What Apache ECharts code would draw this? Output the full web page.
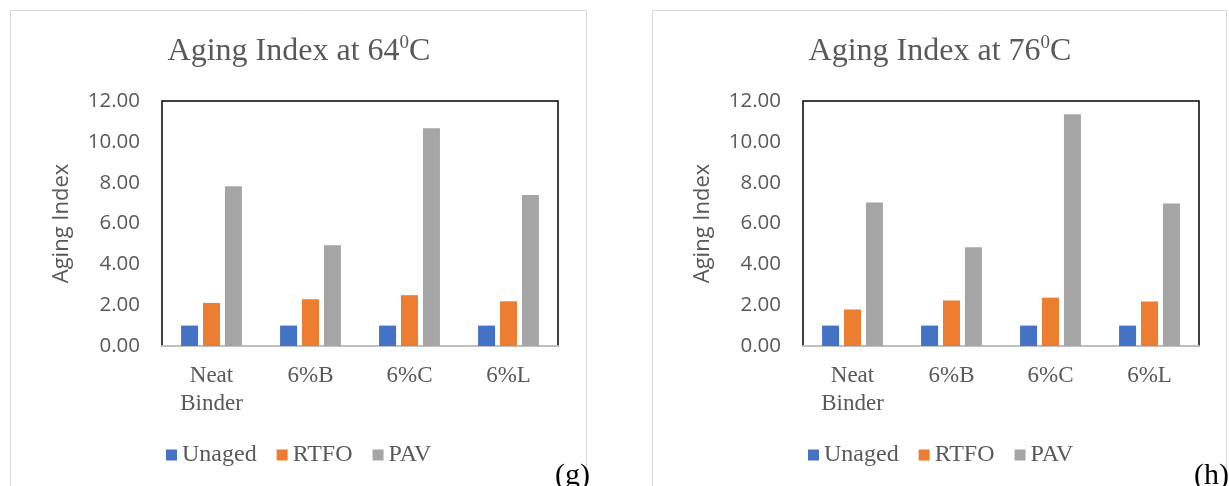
<!DOCTYPE html>
<html>
<head>
<meta charset="utf-8">
<script src="https://cdn.jsdelivr.net/npm/echarts@6/dist/echarts.min.js"></script>
<style>
html,body{margin:0;padding:0;background:#fff;}
#c{width:1229px;height:486px;}
</style>
</head>
<body>
<div id="c"></div>
<script>
var categories = ['Neat\nBinder', '6%B', '6%C', '6%L'];
var seriesNames = ['Unaged', 'RTFO', 'PAV'];
var unaged64 = [1.00, 1.00, 1.00, 1.00];
var rtfo64 = [2.11, 2.29, 2.49, 2.19];
var pav64 = [7.83, 4.94, 10.67, 7.39];
var unaged76 = [1.00, 1.00, 1.00, 1.00];
var rtfo76 = [1.79, 2.23, 2.37, 2.18];
var pav76 = [7.03, 4.84, 11.35, 6.98];
var yTicks = { min: 0, max: 12, interval: 2 };
var titles = ['Aging Index at 64{sup|0}C', 'Aging Index at 76{sup|0}C'];
var panelTags = ['(g)', '(h)'];
var yName = 'Aging Index';

var colors = ['#4472C4', '#ED7D31', '#A5A5A5'];
var serif = 'Liberation Serif';
var sans = 'Open Sans';
var txt = '#595959';

var chart = echarts.init(document.getElementById('c'), null, { renderer: 'canvas' });

var gridLefts = [162, 803];
var frameCenters = [299, 940];
var legendLefts = [166, 808];
var tagLefts = [555, 1194];

function mkTitle(i) {
  return {
    text: titles[i], left: frameCenters[i], top: 34, textAlign: 'center', padding: 0,
    textStyle: {
      fontFamily: serif, fontSize: 32, fontWeight: 'normal', color: txt, lineHeight: 36,
      rich: { sup: { fontFamily: serif, fontSize: 19, color: txt, verticalAlign: 'top', lineHeight: 36 } }
    }
  };
}
function mkTag(i) {
  return {
    text: panelTags[i], left: tagLefts[i], top: 461, padding: 0,
    textStyle: { fontFamily: serif, fontSize: 30, fontWeight: 'normal', color: '#000' }
  };
}
function mkGrid(i) {
  return { left: gridLefts[i], top: 101, width: 396, height: 245, show: true,
    borderColor: '#000', borderWidth: 1.5, backgroundColor: '#fff' };
}
function mkX(i) {
  return {
    type: 'category', gridIndex: i, data: categories,
    axisLine: { show: true, lineStyle: { color: '#BFBFBF', width: 2 } },
    axisTick: { show: false },
    axisLabel: { interval: 0, margin: 16, fontFamily: serif, fontSize: 23, lineHeight: 28, color: txt }
  };
}
function mkY(i) {
  return {
    type: 'value', gridIndex: i, min: yTicks.min, max: yTicks.max, interval: yTicks.interval,
    name: yName, nameLocation: 'middle', nameGap: 89, nameRotate: 90,
    nameTextStyle: { fontFamily: sans, fontSize: 22, color: txt },
    axisLine: { show: false }, axisTick: { show: false }, splitLine: { show: false },
    axisLabel: { margin: 22, fontFamily: sans, fontSize: 20.5, color: txt,
      formatter: function (v) { return v.toFixed(2); } }
  };
}
function mkSeries(name, data, i, c) {
  return { name: name, type: 'bar', xAxisIndex: i, yAxisIndex: i, data: data,
    barWidth: 17, barGap: '29%', itemStyle: { color: colors[c] } };
}
function mkLegend(i) {
  return {
    left: legendLefts[i], top: 443, padding: 0, orient: 'horizontal',
    data: seriesNames, icon: 'rect', itemWidth: 11, itemHeight: 11, itemGap: 20,
    textStyle: { fontFamily: serif, fontSize: 24, color: txt }
  };
}

var option = {
  backgroundColor: '#fff',
  animation: false,
  color: colors,
  title: [mkTitle(0), mkTitle(1), mkTag(0), mkTag(1)],
  legend: [mkLegend(0), mkLegend(1)],
  grid: [mkGrid(0), mkGrid(1)],
  xAxis: [mkX(0), mkX(1)],
  yAxis: [mkY(0), mkY(1)],
  graphic: [
    { type: 'rect', z: -10, shape: { x: 10.5, y: 10.5, width: 576, height: 600 },
      style: { fill: 'none', stroke: '#D9D9D9', lineWidth: 1 } },
    { type: 'rect', z: -10, shape: { x: 652.5, y: 10.5, width: 574, height: 600 },
      style: { fill: 'none', stroke: '#D9D9D9', lineWidth: 1 } }
  ],
  series: [
    mkSeries(seriesNames[0], unaged64, 0, 0),
    mkSeries(seriesNames[1], rtfo64, 0, 1),
    mkSeries(seriesNames[2], pav64, 0, 2),
    mkSeries(seriesNames[0], unaged76, 1, 0),
    mkSeries(seriesNames[1], rtfo76, 1, 1),
    mkSeries(seriesNames[2], pav76, 1, 2)
  ]
};
chart.setOption(option);
</script>
</body>
</html>
